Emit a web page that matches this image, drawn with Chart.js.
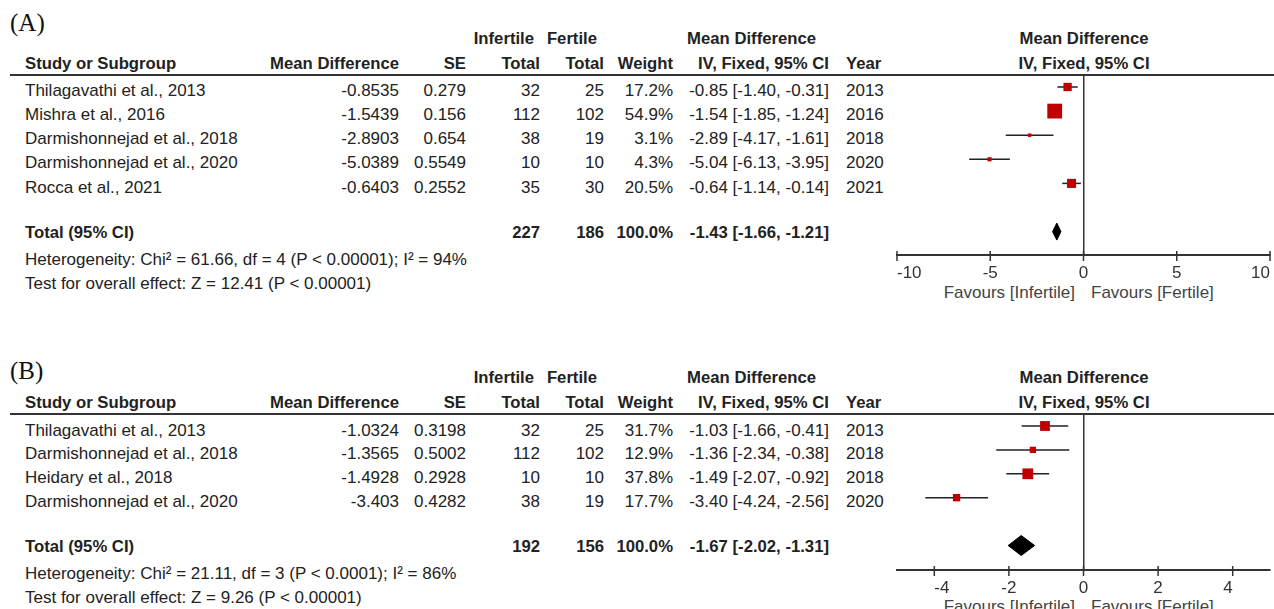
<!DOCTYPE html>
<html>
<head>
<meta charset="utf-8">
<script src="https://cdn.jsdelivr.net/npm/chart.js@4.4.0/dist/chart.umd.min.js"></script>
<style>
  html, body { margin: 0; padding: 0; background: #fff; width: 1274px; height: 609px; overflow: hidden; }
  #page { position: relative; width: 1274px; height: 609px; font-family: "Liberation Sans", Arial, sans-serif; color: #222; overflow: hidden; }
  .t { position: absolute; white-space: nowrap; font-size: 17px; line-height: 1; }
  .b { font-weight: bold; font-size: 16.7px; }
  .fav { color: #444; }
  .lbl { position: absolute; white-space: nowrap; line-height: 1; font-family: "Liberation Serif", "Times New Roman", serif; font-size: 25px; color: #111; }
  .rule { position: absolute; height: 2px; background: #333; }
  canvas { position: absolute; }
</style>
</head>
<body>
<div id="page"></div>
<script>
// ---------- Panel (A) ----------
const studiesA = ["Thilagavathi et al., 2013", "Mishra et al., 2016", "Darmishonnejad et al., 2018", "Darmishonnejad et al., 2020", "Rocca et al., 2021"];
const mdA      = [-0.8535, -1.5439, -2.8903, -5.0389, -0.6403];
const seA      = [0.279, 0.156, 0.654, 0.5549, 0.2552];
const infA     = [32, 112, 38, 10, 35];
const ferA     = [25, 102, 19, 10, 30];
const weightA  = [17.2, 54.9, 3.1, 4.3, 20.5];
const lowA     = [-1.40, -1.85, -4.17, -6.13, -1.14];
const highA    = [-0.31, -1.24, -1.61, -3.95, -0.14];
const yearA    = [2013, 2016, 2018, 2020, 2021];
const totalsA  = [227, 186];
const totalWeightA = 100.0;
const pooledA  = [-1.43, -1.66, -1.21];   // estimate, lower, upper
const hetA     = "Heterogeneity: Chi\u00b2 = 61.66, df = 4 (P < 0.00001); I\u00b2 = 94%";
const testA    = "Test for overall effect: Z = 12.41 (P < 0.00001)";
const ticksA   = [-10, -5, 0, 5, 10];

// ---------- Panel (B) ----------
const studiesB = ["Thilagavathi et al., 2013", "Darmishonnejad et al., 2018", "Heidary et al., 2018", "Darmishonnejad et al., 2020"];
const mdB      = [-1.0324, -1.3565, -1.4928, -3.403];
const seB      = [0.3198, 0.5002, 0.2928, 0.4282];
const infB     = [32, 112, 10, 38];
const ferB     = [25, 102, 10, 19];
const weightB  = [31.7, 12.9, 37.8, 17.7];
const lowB     = [-1.66, -2.34, -2.07, -4.24];
const highB    = [-0.41, -0.38, -0.92, -2.56];
const yearB    = [2013, 2018, 2018, 2020];
const totalsB  = [192, 156];
const totalWeightB = 100.0;
const pooledB  = [-1.67, -2.02, -1.31];
const hetB     = "Heterogeneity: Chi\u00b2 = 21.11, df = 3 (P < 0.0001); I\u00b2 = 86%";
const testB    = "Test for overall effect: Z = 9.26 (P < 0.00001)";
const ticksB   = [-4, -2, 0, 2, 4];

const page = document.getElementById('page');

function fmt2(v) {
  const r = Math.round(Math.abs(v) * 100 + 1e-7) / 100;
  return (v < 0 ? '-' : '') + r.toFixed(2);
}
function ciText(m, lo, hi) { return fmt2(m) + ' [' + fmt2(lo) + ', ' + fmt2(hi) + ']'; }

function put(text, x, y, align, cls) {
  const d = document.createElement('div');
  d.className = cls || 't';
  d.textContent = text;
  d.style.left = x + 'px';
  d.style.top = y + 'px';
  const tx = align === 'right' ? '-100%' : (align === 'center' ? '-50%' : '0');
  d.style.transform = 'translate(' + tx + ',-50%)';
  page.appendChild(d);
}

// column anchors of the table
const col = { study: 25, md: 399, se: 466, inf: 540, fer: 604, weight: 673, ci: 829, year: 846, plotMid: 1084 };

// tick marks crossing the axis line
const crossTicks = {
  id: 'crossTicks',
  afterDraw(chart) {
    const s = chart.scales.x, ctx = chart.ctx, y = s.top;
    ctx.save();
    ctx.strokeStyle = '#333';
    ctx.lineWidth = 1.5;
    s.ticks.forEach(t => {
      const x = s.getPixelForValue(t.value);
      ctx.beginPath();
      ctx.moveTo(x, y - 4);
      ctx.lineTo(x, y + 6);
      ctx.stroke();
    });
    ctx.restore();
  }
};

function panel(p) {
  // panel letter
  put(p.letter, 10, p.labelY, 'left', 'lbl');

  // header rows
  put('Infertile', 534, p.head1, 'right', 't b');
  put('Fertile', 597, p.head1, 'right', 't b');
  put('Mean Difference', 816, p.head1, 'right', 't b');
  put('Mean Difference', col.plotMid, p.head1, 'center', 't b');

  put('Study or Subgroup', col.study, p.head2, 'left', 't b');
  put('Mean Difference', col.md, p.head2, 'right', 't b');
  put('SE', col.se, p.head2, 'right', 't b');
  put('Total', col.inf, p.head2, 'right', 't b');
  put('Total', col.fer, p.head2, 'right', 't b');
  put('Weight', col.weight, p.head2, 'right', 't b');
  put('IV, Fixed, 95% CI', col.ci, p.head2, 'right', 't b');
  put('Year', col.year, p.head2, 'left', 't b');
  put('IV, Fixed, 95% CI', col.plotMid, p.head2, 'center', 't b');

  const rule = document.createElement('div');
  rule.className = 'rule';
  rule.style.left = '10px';
  rule.style.width = '1264px';
  rule.style.top = (p.lineY - 1) + 'px';
  page.appendChild(rule);

  // study rows
  p.studies.forEach((s, i) => {
    const y = p.rowY0 + i * p.rowDy;
    put(s, col.study, y, 'left');
    put(String(p.md[i]), col.md, y, 'right');
    put(String(p.se[i]), col.se, y, 'right');
    put(String(p.inf[i]), col.inf, y, 'right');
    put(String(p.fer[i]), col.fer, y, 'right');
    put(p.weight[i].toFixed(1) + '%', col.weight, y, 'right');
    put(ciText(p.md[i], p.low[i], p.high[i]), col.ci, y, 'right');
    put(String(p.year[i]), col.year, y, 'left');
  });

  // total row
  put('Total (95% CI)', col.study, p.totalY, 'left', 't b');
  put(String(p.totals[0]), col.inf, p.totalY, 'right', 't b');
  put(String(p.totals[1]), col.fer, p.totalY, 'right', 't b');
  put(p.totalWeight.toFixed(1) + '%', col.weight, p.totalY, 'right', 't b');
  put(ciText(p.pooled[0], p.pooled[1], p.pooled[2]), col.ci, p.totalY, 'right', 't b');
  put(p.het, col.study, p.hetY, 'left');
  put(p.test, col.study, p.testY, 'left');

  put('Favours [Infertile]', 1075, p.favY, 'right', 't fav');
  put('Favours [Fertile]', 1091, p.favY, 'left', 't fav');

  // ---- plot ----
  const padTop = 15, axisH = 45;
  const cv = document.createElement('canvas');
  const cw = 440, ch = (p.axisY - p.chartTop) + padTop + axisH;
  cv.width = cw; cv.height = ch;
  cv.style.left = '860px';
  cv.style.top = (p.chartTop - padTop) + 'px';
  cv.style.width = cw + 'px';
  cv.style.height = ch + 'px';
  page.appendChild(cv);

  const yMin = 1 - (p.markY0 - p.chartTop) / p.markDy;
  const yMax = 1 + (p.axisY - p.markY0) / p.markDy;
  const halfH = p.diamondHalf / p.markDy;
  const yT = p.totalRow;

  const datasets = [];
  datasets.push({
    label: 'Studies',
    data: p.md.map((m, i) => ({ x: m, y: i + 1 })),
    showLine: false,
    pointStyle: 'rect',
    pointRadius: p.weight.map(w => p.k * Math.sqrt(w) / (2 * Math.SQRT1_2)),
    pointBackgroundColor: '#c00000',
    pointBorderWidth: 0,
    order: 0
  });
  datasets.push({
    label: 'Pooled',
    data: [
      { x: p.pooled[1], y: yT },
      { x: p.pooled[0], y: yT - halfH },
      { x: p.pooled[2], y: yT },
      { x: p.pooled[0], y: yT + halfH },
      { x: p.pooled[1], y: yT }
    ],
    showLine: true,
    fill: 'shape',
    backgroundColor: '#000',
    borderColor: '#000',
    borderWidth: 1,
    pointRadius: 0,
    order: 0
  });
  p.low.forEach((lo, i) => {
    datasets.push({
      label: 'CI ' + (i + 1),
      data: [{ x: lo, y: i + 1 }, { x: p.high[i], y: i + 1 }],
      showLine: true,
      borderColor: '#222',
      borderWidth: 1.5,
      pointRadius: 0,
      order: 1
    });
  });

  new Chart(cv, {
    type: 'line',
    data: { datasets },
    plugins: [crossTicks],
    options: {
      responsive: false,
      animation: false,
      devicePixelRatio: 1,
      events: [],
      layout: { padding: { top: padTop, left: 37, right: 30, bottom: 0 } },
      plugins: { legend: { display: false }, tooltip: { enabled: false } },
      scales: {
        x: {
          type: 'linear',
          min: p.xMin,
          max: p.xMax,
          afterBuildTicks: s => { s.ticks = p.ticks.map(v => ({ value: v })); },
          afterFit: s => { s.height = axisH; },
          grid: {
            drawTicks: false,
            lineWidth: 1.5,
            color: c => (c.tick && c.tick.value === 0 ? '#333' : 'rgba(0,0,0,0)')
          },
          border: { display: true, color: '#333', width: 2 },
          ticks: {
            align: 'inner',
            padding: 8,
            maxRotation: 0,
            color: '#333',
            font: { family: '"Liberation Sans", Arial, sans-serif', size: 17 },
            callback: v => String(v)
          }
        },
        y: { type: 'linear', display: false, reverse: true, min: yMin, max: yMax }
      }
    }
  });
}

panel({
  letter: '(A)', labelY: 21.5, head1: 38.5, head2: 63.5, lineY: 75,
  rowY0: 90, rowDy: 24.15, totalY: 232.5, hetY: 259, testY: 283, favY: 292,
  chartTop: 75, axisY: 255, markY0: 87, markDy: 24.1, totalRow: 7, diamondHalf: 8.5, k: 2.0,
  xMin: -10, xMax: 10, ticks: ticksA,
  studies: studiesA, md: mdA, se: seA, inf: infA, fer: ferA, weight: weightA,
  low: lowA, high: highA, year: yearA, totals: totalsA, totalWeight: totalWeightA,
  pooled: pooledA, het: hetA, test: testA
});

panel({
  letter: '(B)', labelY: 370, head1: 378, head2: 403, lineY: 414,
  rowY0: 429.5, rowDy: 23.9, totalY: 547, hetY: 573, testY: 596.5, favY: 606,
  chartTop: 414, axisY: 570, markY0: 426, markDy: 23.9, totalRow: 6, diamondHalf: 10, k: 1.75,
  xMin: -5, xMax: 5, ticks: ticksB,
  studies: studiesB, md: mdB, se: seB, inf: infB, fer: ferB, weight: weightB,
  low: lowB, high: highB, year: yearB, totals: totalsB, totalWeight: totalWeightB,
  pooled: pooledB, het: hetB, test: testB
});
</script>
</body>
</html>
